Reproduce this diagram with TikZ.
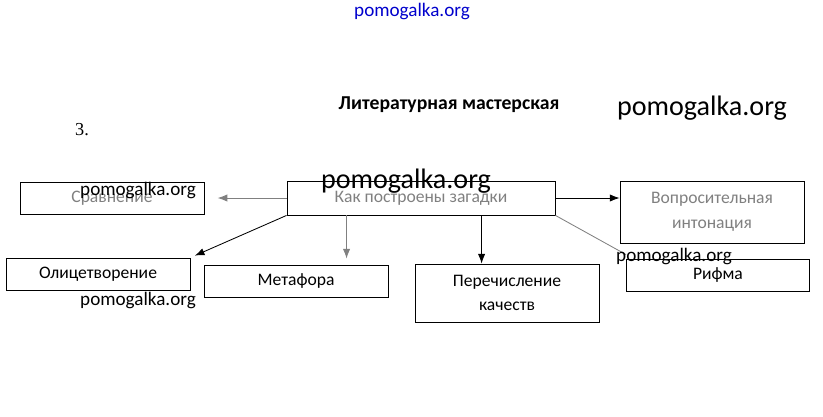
\documentclass[tikz,border=0pt]{standalone}
\usepackage{fontspec}
\setmainfont{Carlito}
\newfontfamily\numfont{Liberation Serif}
\usetikzlibrary{positioning,arrows.meta}
\tikzset{
  block/.style={draw, line width=0.6pt, inner sep=0pt, align=center, minimum width=4.6cm, minimum height=0.8cm,
    font=\fontsize{12.5}{17.5}\selectfont},
  wm/.style={font=\fontsize{13.6}{16}\selectfont},
  wmbig/.style={font=\fontsize{20}{22}\selectfont},
  link/.style={-{Latex[length=2.4mm,width=1.8mm]}, line width=0.6pt}
}
\begin{document}
\begin{tikzpicture}[x=0.025cm,y=-0.025cm]
  \useasboundingbox (0,0) rectangle (823,416);
  % boxes
  \node [block, minimum width=6.7cm, minimum height=0.85cm, text=gray] (kak) at (421,198) {Как построены загадки};
  \node [block, text=gray] (srav) at (112,198) {Сравнение};
  \node [block, minimum height=1.55cm, text=gray] (vopr) at (712,212) {Вопросительная\\интонация};
  \node [block] (olic) at (98,274) {Олицетворение};
  \node [block] (meta) at (296,281) {Метафора};
  \node [block, minimum height=1.45cm] (per) at (507,293) {Перечисление\\качеств};
  \node [block, minimum width=4.575cm] (rifma) at (718,275) {Рифма};

  % arrows
  \coordinate (m) at ([xshift=1.5cm]kak.south west);
  \coordinate (p) at ([xshift=4.875cm]kak.south west);
  \draw [link, gray, shorten >=0.33cm] (kak.west) -- (srav.east);
  \draw [link, shorten >=0.12cm] (kak.south west) -- (olic.north east);
  \draw [link, gray, shorten >=0.15cm] (m) -- (m |- meta.north);
  \draw [link] (p) -- (p |- per.north);
  \draw [link] (kak.east) -- (vopr.west |- kak.east);
  \draw [gray, line width=0.6pt] (kak.south east) -- ([yshift=0.1cm]rifma.north west);

  % texts
  \node [font=\fontsize{14}{16}\selectfont\bfseries] (title) at (449,105) {Литературная мастерская};
  \node [font=\numfont\fontsize{13}{15}\selectfont] (num) at (82,130) {3.};
  \node [wm, text=blue!80!black] (wm0) at (412,12) {pomogalka.org};
  \node [wmbig] (wm1) at (702,108) {pomogalka.org};
  \node [wmbig] (wm2) at (406,181) {pomogalka.org};
  \node [wm] (wm3) at (138,190) {pomogalka.org};
  \node [wm] (wm4) at (138,300) {pomogalka.org};
  \node [wm] (wm5) at (674,256) {pomogalka.org};
\end{tikzpicture}
\end{document}
